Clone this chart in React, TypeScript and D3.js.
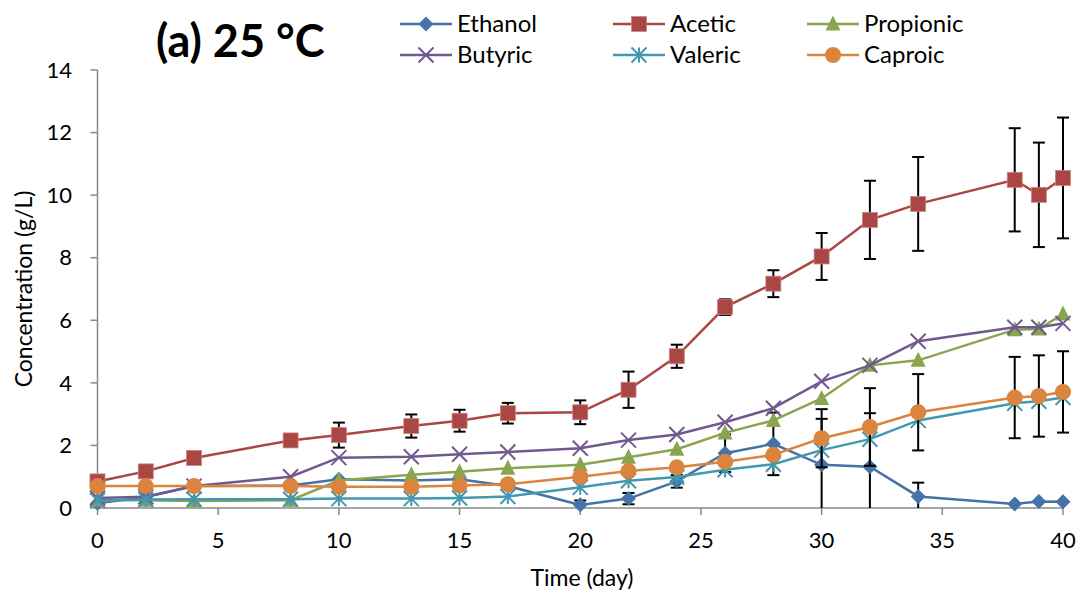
import React from "react";
import * as d3 from "d3";

const days = [0, 2, 4, 8, 10, 13, 15, 17, 20, 22, 24, 26, 28, 30, 32, 34, 38, 39, 40];

const ethanol = [0.15, 0.35, 0.7, 0.72, 0.92, 0.88, 0.92, 0.7, 0.1, 0.3, 0.85, 1.75, 2.05, 1.38, 1.32, 0.37, 0.13, 0.21, 0.2];
const ethanolErr = [0, 0, 0, 0, 0, 0, 0, 0, 0.14, 0.18, 0.2, 0.6, 1.0, 1.47, 1.71, 0.44, 0, 0, 0];

const acetic = [0.85, 1.17, 1.6, 2.16, 2.33, 2.62, 2.79, 3.03, 3.06, 3.78, 4.85, 6.42, 7.17, 8.04, 9.21, 9.72, 10.49, 10.01, 10.55];
const aceticErr = [0, 0, 0, 0, 0.4, 0.37, 0.35, 0.33, 0.38, 0.58, 0.37, 0.25, 0.43, 0.75, 1.25, 1.5, 1.65, 1.67, 1.93];

const propionic = [0.25, 0.25, 0.22, 0.25, 0.88, 1.06, 1.16, 1.27, 1.38, 1.62, 1.88, 2.4, 2.8, 3.5, 4.56, 4.72, 5.7, 5.72, 6.2];
const butyric = [0.32, 0.36, 0.7, 1.0, 1.61, 1.64, 1.72, 1.79, 1.91, 2.17, 2.35, 2.74, 3.19, 4.05, 4.56, 5.33, 5.78, 5.78, 5.9];
const valeric = [0.25, 0.27, 0.28, 0.28, 0.3, 0.3, 0.32, 0.37, 0.66, 0.87, 0.99, 1.22, 1.4, 1.85, 2.2, 2.8, 3.35, 3.41, 3.53];

const caproic = [0.7, 0.7, 0.7, 0.7, 0.68, 0.68, 0.72, 0.76, 1.0, 1.18, 1.3, 1.48, 1.7, 2.23, 2.59, 3.06, 3.53, 3.58, 3.71];
const caproicErr = [0, 0, 0, 0, 0, 0, 0, 0, 0, 0, 0, 0, 0, 0.93, 1.24, 1.22, 1.3, 1.3, 1.3];

const xTicks = [0, 5, 10, 15, 20, 25, 30, 35, 40];
const yTicks = [0, 2, 4, 6, 8, 10, 12, 14];

const title = "(a) 25 °C";
const xTitle = "Time (day)";
const yTitle = "Concentration (g/L)";

type Marker = "diamond" | "square" | "triangle" | "x" | "star" | "circle";

const seriesList: { name: string; values: number[]; err: number[] | null; color: string; marker: Marker }[] = [
  { name: "Ethanol", values: ethanol, err: ethanolErr, color: "#4572A7", marker: "diamond" },
  { name: "Acetic", values: acetic, err: aceticErr, color: "#AA4643", marker: "square" },
  { name: "Propionic", values: propionic, err: null, color: "#89A54E", marker: "triangle" },
  { name: "Butyric", values: butyric, err: null, color: "#71588F", marker: "x" },
  { name: "Valeric", values: valeric, err: null, color: "#4198AF", marker: "star" },
  { name: "Caproic", values: caproic, err: caproicErr, color: "#DB843D", marker: "circle" },
];

const FONT = "Lato, 'Open Sans', sans-serif";
const AXIS = "#888888";

function MarkerShape({ type, cx, cy, color }: { type: Marker; cx: number; cy: number; color: string }) {
  const s = 7.5;
  switch (type) {
    case "diamond":
      return <path d={`M${cx},${cy - s}L${cx + s},${cy}L${cx},${cy + s}L${cx - s},${cy}Z`} fill={color} />;
    case "square":
      return <rect x={cx - s} y={cy - s} width={2 * s} height={2 * s} fill={color} stroke="#C98583" strokeWidth={0.8} />;
    case "triangle":
      return <path d={`M${cx},${cy - s - 1}L${cx + s},${cy + s - 1}L${cx - s},${cy + s - 1}Z`} fill={color} />;
    case "circle":
      return <circle cx={cx} cy={cy} r={8} fill={color} />;
    case "x":
      return (
        <path d={`M${cx - s},${cy - s}L${cx + s},${cy + s}M${cx - s},${cy + s}L${cx + s},${cy - s}`} stroke={color} strokeWidth={2} fill="none" />
      );
    case "star":
      return (
        <path
          d={`M${cx - s},${cy - s}L${cx + s},${cy + s}M${cx - s},${cy + s}L${cx + s},${cy - s}M${cx},${cy - s}L${cx},${cy + s}`}
          stroke={color}
          strokeWidth={2}
          fill="none"
        />
      );
  }
  return null;
}

export default function App() {
  const W = 1080;
  const H = 596;
  const x = d3.scaleLinear().domain([0, 40]).range([97.5, 1063]);
  const y = d3.scaleLinear().domain([0, 14]).range([508, 70]);
  const clampY = (v: number) => y(Math.max(0, Math.min(14, v)));

  const line = d3
    .line<number>()
    .x((_, i) => x(days[i]))
    .y((d) => y(d));

  const legendCols = [400, 613, 807];
  const legendRows = [24, 55];

  return (
    <svg width={W} height={H} style={{ position: "absolute", left: 0, top: 0, background: "#fff" }}>
      <rect width={W} height={H} fill="#fff" />
      {/* axes */}
      <line x1={x(0)} x2={x(0)} y1={y(14)} y2={y(0)} stroke={AXIS} strokeWidth={1.5} />
      <line x1={x(0)} x2={x(40)} y1={y(0)} y2={y(0)} stroke={AXIS} strokeWidth={1.5} />
      {yTicks.map((t) => (
        <g key={"yt" + t}>
          <line x1={x(0) - 7} x2={x(0)} y1={y(t)} y2={y(t)} stroke={AXIS} strokeWidth={1.5} />
          <text x={72} y={y(t)} dy="0.35em" textAnchor="end" fontFamily={FONT} fontSize={22} fill="#000">
            {t}
          </text>
        </g>
      ))}
      {xTicks.map((t) => (
        <g key={"xt" + t}>
          <line x1={x(t)} x2={x(t)} y1={y(0)} y2={y(0) + 7} stroke={AXIS} strokeWidth={1.5} />
          <text x={x(t)} y={540} dy="0.35em" textAnchor="middle" fontFamily={FONT} fontSize={22} fill="#000">
            {t}
          </text>
        </g>
      ))}
      <text x={582} y={578} dy="0.35em" textAnchor="middle" fontFamily={FONT} fontSize={23} fill="#000">
        {xTitle}
      </text>
      <text
        transform={`translate(24,${289}) rotate(-90)`}
        dy="0.35em"
        textAnchor="middle"
        fontFamily={FONT}
        fontSize={23}
        fill="#000"
      >
        {yTitle}
      </text>
      <text x={156} y={57} fontFamily={FONT} fontWeight="bold" fontSize={45} fill="#000">
        {title}
      </text>

      {/* series */}
      {seriesList.map((s) => (
        <g key={s.name}>
          <path d={line(s.values) || ""} fill="none" stroke={s.color} strokeWidth={2.5} />
          {s.err &&
            s.values.map((v, i) => {
              const e = s.err![i];
              if (!e) return null;
              const cx = x(days[i]);
              const top = clampY(v + e);
              const bot = clampY(v - e);
              return (
                <g key={"e" + i} stroke="#000" strokeWidth={2}>
                  <line x1={cx} x2={cx} y1={top} y2={bot} />
                  {v + e <= 14 && <line x1={cx - 6} x2={cx + 6} y1={top} y2={top} />}
                  {v - e >= 0 && <line x1={cx - 6} x2={cx + 6} y1={bot} y2={bot} />}
                </g>
              );
            })}
          {s.values.map((v, i) => (
            <MarkerShape key={"m" + i} type={s.marker} cx={x(days[i])} cy={y(v)} color={s.color} />
          ))}
        </g>
      ))}

      {/* legend */}
      {seriesList.map((s, i) => {
        const lx = legendCols[i % 3];
        const ly = legendRows[Math.floor(i / 3)];
        return (
          <g key={"lg" + s.name}>
            <line x1={lx} x2={lx + 52} y1={ly} y2={ly} stroke={s.color} strokeWidth={2.5} />
            <MarkerShape type={s.marker} cx={lx + 26} cy={ly} color={s.color} />
            <text x={lx + 57} y={ly} dy="0.35em" fontFamily={FONT} fontSize={24} fill="#000">
              {s.name}
            </text>
          </g>
        );
      })}
    </svg>
  );
}
